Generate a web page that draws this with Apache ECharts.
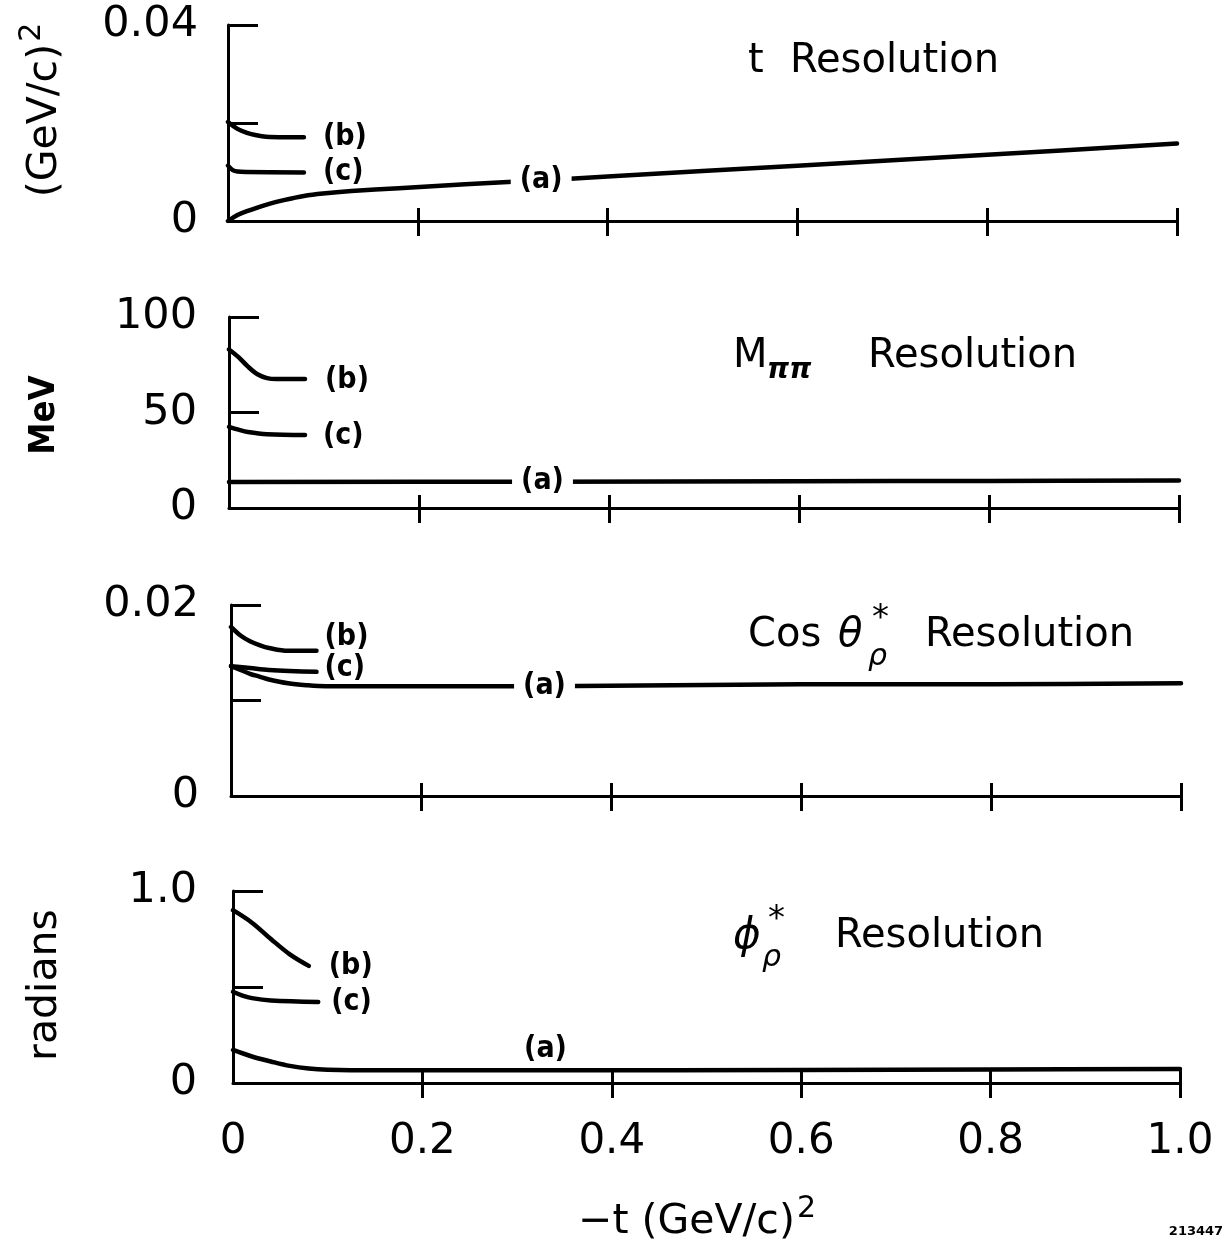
<!DOCTYPE html>
<html>
<head>
<meta charset="utf-8">
<script src="https://cdn.jsdelivr.net/npm/echarts@6/dist/echarts.min.js"></script>
<style>
  html, body { margin: 0; padding: 0; background: #fff; }
  #chart { width: 1224px; height: 1245px; }
</style>
</head>
<body>
<div id="chart"></div>
<script>
// Shared x scale: -t in (GeV/c)^2
const X_TICKS = [0.2, 0.4, 0.6, 0.8, 1.0];
const X_LABELS = [0, 0.2, 0.4, 0.6, 0.8, 1.0];
const A_LABEL_X = 0.33;   // where the "(a)" tag sits on each curve

// t resolution, (GeV/c)^2
const T_A = [[0,0],[0.01,0.0012],[0.02,0.0020],[0.04,0.0033],[0.06,0.0043],[0.08,0.0051],[0.1,0.0056],[0.13,0.0061],[0.18,0.0067],[0.25,0.0075],[0.33,0.0083],[0.4,0.0091],[0.6,0.0113],[0.8,0.0135],[1.0,0.0158]];
const T_B = [[0,0.0202],[0.01,0.0188],[0.02,0.0180],[0.03,0.0175],[0.04,0.0172],[0.06,0.0171],[0.08,0.0171]];
const T_C = [[0,0.0113],[0.005,0.0104],[0.01,0.0101],[0.02,0.0100],[0.08,0.0099]];
const T_Y_TICKS = [0.02, 0.04];
const T_Y_LABELS = [0, 0.04];

// M(pi pi) resolution, MeV
const M_A = [[0,13.6],[0.33,13.8],[0.6,14.0],[0.8,14.2],[1.0,14.4]];
const M_B = [[0,83],[0.01,79],[0.02,74],[0.03,70],[0.04,68],[0.05,67.5],[0.08,67.5]];
const M_C = [[0,42.5],[0.01,41],[0.02,39.8],[0.04,38.6],[0.08,38.2]];
const M_Y_TICKS = [50, 100];
const M_Y_LABELS = [0, 50, 100];

// cos theta* resolution
const C_A = [[0,0.0136],[0.01,0.0132],[0.02,0.0128],[0.03,0.0125],[0.04,0.0122],[0.06,0.0118],[0.08,0.0116],[0.1,0.0115],[0.33,0.0115],[0.6,0.0117],[0.8,0.0117],[1.0,0.0118]];
const C_B = [[0,0.0177],[0.01,0.0168],[0.02,0.0162],[0.03,0.0158],[0.04,0.0155],[0.06,0.0152],[0.09,0.0152]];
const C_C = [[0,0.0136],[0.02,0.0134],[0.04,0.0132],[0.09,0.0130]];
const C_Y_TICKS = [0.01, 0.02];
const C_Y_LABELS = [0, 0.02];

// phi* resolution, radians
const P_A = [[0,0.172],[0.02,0.138],[0.04,0.112],[0.06,0.089],[0.08,0.075],[0.1,0.069],[0.15,0.066],[0.33,0.066],[0.6,0.068],[0.8,0.070],[1.0,0.073]];
const P_B = [[0,0.90],[0.02,0.835],[0.04,0.75],[0.06,0.67],[0.08,0.61]];
const P_C = [[0,0.475],[0.01,0.455],[0.02,0.442],[0.04,0.43],[0.09,0.422]];
const P_Y_TICKS = [0.5, 1.0];
const P_Y_LABELS = [0, 1.0];

const FONT = '"DejaVu Sans", sans-serif';
const TAG_FONT = '"DejaVu Sans Condensed", "DejaVu Sans", sans-serif';
const INK = '#000';

const panels = [
  { grid: { left: 228, top: 25,  width: 949, height: 196 }, max: 0.04, yTicks: T_Y_TICKS, yLabels: T_Y_LABELS,
    fmt: v => v === 0 ? '0' : v.toFixed(2), a: T_A, b: T_B, c: T_C,
    bTag: { d: 19, dy: 0 }, cTag: { d: 19, dy: 0 }, aInline: true, labelMargin: 30 },
  { grid: { left: 229, top: 317, width: 950, height: 191 }, max: 100, yTicks: M_Y_TICKS, yLabels: M_Y_LABELS,
    fmt: v => String(v), a: M_A, b: M_B, c: M_C,
    bTag: { d: 20, dy: 1 }, cTag: { d: 18, dy: 1 }, aInline: true, labelMargin: 32 },
  { grid: { left: 231, top: 605, width: 950, height: 191 }, max: 0.02, yTicks: C_Y_TICKS, yLabels: C_Y_LABELS,
    fmt: v => v === 0 ? '0' : v.toFixed(2), a: C_A, b: C_B, c: C_C,
    bTag: { d: 8, dy: -14 }, cTag: { d: 8, dy: -4 }, aInline: true, labelMargin: 32 },
  { grid: { left: 233, top: 891, width: 947, height: 192 }, max: 1.0, yTicks: P_Y_TICKS, yLabels: P_Y_LABELS,
    fmt: v => v === 0 ? '0' : v.toFixed(1), a: P_A, b: P_B, c: P_C,
    bTag: { d: 20, dy: 0 }, cTag: { d: 13, dy: 0 }, aInline: false, labelMargin: 36 }
];

const grids = [], xAxes = [], yAxes = [], series = [];
const tagStyle = { color: INK, fontFamily: TAG_FONT, fontWeight: 'bold', fontSize: 30, opacity: 1 };

panels.forEach((p, i) => {
  const isBottom = i === panels.length - 1;
  grids.push(Object.assign({ outerBoundsMode: 'none', containLabel: false }, p.grid));

  // main x axis: line, inward ticks, labels on the bottom panel only
  xAxes.push({
    type: 'value', gridIndex: i, position: 'bottom', min: 0, max: 1, interval: 0.2,
    axisLine: { show: true, onZero: false, lineStyle: { color: INK, width: 3 } },
    axisTick: { show: true, inside: true, length: 13, customValues: X_TICKS, lineStyle: { color: INK, width: 3 } },
    axisLabel: {
      show: isBottom, margin: 38, customValues: X_LABELS, color: INK, fontFamily: FONT, fontSize: 42,
      formatter: v => v === 0 ? '0' : v.toFixed(1)
    },
    splitLine: { show: false }
  });
  // companion x axis carrying the outward half of each crossing tick
  xAxes.push({
    type: 'value', gridIndex: i, position: 'bottom', min: 0, max: 1, interval: 0.2,
    axisLine: { show: false, onZero: false },
    axisTick: { show: true, inside: false, length: 15, customValues: X_TICKS, lineStyle: { color: INK, width: 3 } },
    axisLabel: { show: false },
    splitLine: { show: false }
  });

  yAxes.push({
    type: 'value', gridIndex: i, position: 'left', min: 0, max: p.max,
    axisLine: { show: true, onZero: false, lineStyle: { color: INK, width: 3 } },
    axisTick: { show: true, inside: true, length: 30, customValues: p.yTicks, lineStyle: { color: INK, width: 3 } },
    axisLabel: {
      show: true, margin: p.labelMargin, customValues: p.yLabels, color: INK, fontFamily: FONT, fontSize: 43,
      formatter: p.fmt
    },
    splitLine: { show: false }
  });

  const lineBase = {
    type: 'line', xAxisIndex: 2 * i, yAxisIndex: i, showSymbol: false, symbol: 'none',
    smooth: 0.35, silent: true, animation: false,
    lineStyle: { color: INK, width: 4.5, cap: 'round', join: 'round' }, z: 3
  };

  series.push(Object.assign({}, lineBase, { name: '(a)', data: p.a }));
  series.push(Object.assign({}, lineBase, {
    name: '(b)', data: p.b,
    endLabel: Object.assign({ show: true, formatter: '(b)', distance: p.bTag.d, offset: [0, p.bTag.dy] }, tagStyle)
  }));
  series.push(Object.assign({}, lineBase, {
    name: '(c)', data: p.c,
    endLabel: Object.assign({ show: true, formatter: '(c)', distance: p.cTag.d, offset: [0, p.cTag.dy] }, tagStyle)
  }));

  // "(a)" tag placed on the curve point at A_LABEL_X
  const aPoint = p.a.find(d => d[0] === A_LABEL_X);
  series.push({
    type: 'scatter', xAxisIndex: 2 * i, yAxisIndex: i, data: [aPoint], symbolSize: 1,
    itemStyle: { color: 'rgba(0,0,0,0)', opacity: 1 },
    silent: true, animation: false, z: 5,
    label: Object.assign({
      show: true, formatter: '(a)',
      position: p.aInline ? 'inside' : 'top', distance: 6,
      backgroundColor: p.aInline ? '#fff' : 'transparent', padding: p.aInline ? [3, 9] : 0
    }, tagStyle)
  });
});

function txt(x, y, text, opts) {
  opts = opts || {};
  return {
    type: 'text', x: x, y: y, rotation: opts.rotation || 0, silent: true, z: 10,
    style: {
      text: text, fill: INK,
      fontFamily: opts.family || FONT, fontSize: opts.size || 40,
      fontStyle: opts.style || 'normal', fontWeight: opts.weight || 'normal',
      textAlign: opts.align || 'left', textVerticalAlign: 'middle', verticalAlign: 'middle',
      rich: opts.rich
    }
  };
}

const SUP = { sup: { fontFamily: FONT, fontSize: 30, padding: [0, 0, 26, 2] } };

const graphics = [
  // panel headings
  txt(748, 62, 't'), txt(790, 62, 'Resolution'),
  txt(733, 357, 'M'), txt(767, 371, 'ππ', { style: 'italic', weight: 'bold', size: 28 }), txt(868, 357, 'Resolution'),
  txt(748, 636, 'Cos'), txt(838, 636, 'θ', { style: 'italic' }),
  txt(872, 619, '*', { size: 34 }), txt(868, 657, 'ρ', { style: 'italic', size: 30 }), txt(925, 636, 'Resolution'),
  txt(733, 937, 'ϕ', { style: 'italic', size: 42 }),
  txt(768, 920, '*', { size: 34 }), txt(762, 958, 'ρ', { style: 'italic', size: 30 }), txt(835, 937, 'Resolution'),
  // axis titles
  txt(45, 110, '(GeV/c){sup|2}', { rotation: Math.PI / 2, align: 'center', size: 41, rich: SUP }),
  txt(45, 415, 'MeV', { rotation: Math.PI / 2, align: 'center', size: 36, weight: 'bold', family: TAG_FONT }),
  txt(45, 985, 'radians', { rotation: Math.PI / 2, align: 'center', size: 41 }),
  txt(697, 1222, '−t (GeV/c){sup|2}', { align: 'center', size: 41, rich: SUP }),
  txt(1196, 1232, '213447', { align: 'center', size: 13, weight: 'bold' })
];

const chart = echarts.init(document.getElementById('chart'), null, { renderer: 'canvas' });
chart.setOption({
  backgroundColor: '#fff',
  animation: false,
  grid: grids,
  xAxis: xAxes,
  yAxis: yAxes,
  series: series,
  graphic: graphics
});
</script>
</body>
</html>
